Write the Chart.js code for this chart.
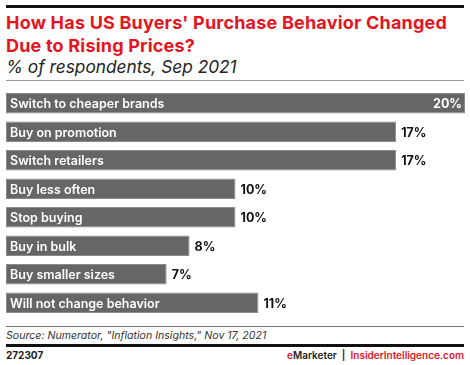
<!DOCTYPE html>
<html>
<head>
<meta charset="utf-8">
<script src="https://cdn.jsdelivr.net/npm/chart.js@4/dist/chart.umd.min.js"></script>
<style>
  body { margin: 0; width: 470px; height: 365px; background: #fff; font-family: Inter, "Noto Sans", sans-serif; position: relative; overflow: hidden; }
  .rule { position: absolute; left: 6px; width: 458px; }
  #title { position: absolute; left: 6px; top: 11px; color: #e4151f; font-weight: 700; font-size: 18px; line-height: 23px; letter-spacing: 0.2px; }
  #subtitle { position: absolute; left: 6px; top: 56px; font-style: italic; font-size: 17.3px; color: #222; }
  #wrap { position: absolute; left: 6px; top: 89px; width: 459px; height: 228px; }
  #source { position: absolute; left: 6px; top: 329px; font-style: italic; font-size: 10.6px; color: #333; }
  #code { position: absolute; left: 6px; top: 349px; font-weight: 700; font-size: 10px; color: #222; }
  #brand { position: absolute; right: 6px; top: 349px; font-weight: 600; font-size: 10px; color: #222; }
  .red { color: #e4151f; }
</style>
</head>
<body>
<div class="rule" style="top:5px;height:3px;background:#111"></div>
<div id="title">How Has US Buyers' Purchase Behavior Changed<br>Due to Rising Prices?</div>
<div id="subtitle">% of respondents, Sep 2021</div>
<div class="rule" style="top:80px;height:1px;background:#999"></div>
<div id="wrap"><canvas id="chart"></canvas></div>
<div class="rule" style="top:326px;height:1px;background:#777"></div>
<div id="source">Source: Numerator, "Inflation Insights," Nov 17, 2021</div>
<div class="rule" style="top:344px;height:3px;background:#111"></div>
<div id="code">272307</div>
<div id="brand"><span class="red">e</span>Marketer &nbsp;|&nbsp; <span class="red">InsiderIntelligence.com</span></div>
<script>
const categories = [
  "Switch to cheaper brands",
  "Buy on promotion",
  "Switch retailers",
  "Buy less often",
  "Stop buying",
  "Buy in bulk",
  "Buy smaller sizes",
  "Will not change behavior"
];
const values = [20, 17, 17, 10, 10, 8, 7, 11];

// draws category names inside bars and the % values at bar ends
const barLabels = {
  id: "barLabels",
  afterDatasetsDraw(chart) {
    const ctx = chart.ctx;
    const meta = chart.getDatasetMeta(0);
    ctx.save();
    ctx.textBaseline = "middle";
    meta.data.forEach((bar, i) => {
      const left = chart.chartArea.left;
      ctx.font = "600 12.5px Inter, sans-serif";
      ctx.fillStyle = "#fff";
      ctx.textAlign = "left";
      ctx.fillText(categories[i], left + 4, bar.y + 1);

      const txt = values[i] + "%";
      ctx.font = "700 12.5px Inter, sans-serif";
      if (bar.x > chart.chartArea.right - 5) {
        ctx.fillStyle = "#fff";
        ctx.textAlign = "right";
        ctx.fillText(txt, bar.x - 3, bar.y + 1);
      } else {
        ctx.fillStyle = "#111";
        ctx.textAlign = "left";
        ctx.fillText(txt, bar.x + 5, bar.y + 1);
      }
    });
    ctx.restore();
  }
};

new Chart(document.getElementById("chart"), {
  type: "bar",
  data: {
    labels: categories,
    datasets: [{
      data: values,
      backgroundColor: "#666666",
      borderColor: "#8a8a8a",
      borderWidth: 1,
      borderSkipped: false,
      barPercentage: 0.72,
      categoryPercentage: 1
    }]
  },
  options: {
    indexAxis: "y",
    responsive: true,
    maintainAspectRatio: false,
    animation: false,
    layout: { padding: 0 },
    plugins: { legend: { display: false }, tooltip: { enabled: false } },
    scales: {
      x: { display: false, min: 0, max: 20 },
      y: { display: false }
    }
  },
  plugins: [barLabels]
});
</script>
</body>
</html>
